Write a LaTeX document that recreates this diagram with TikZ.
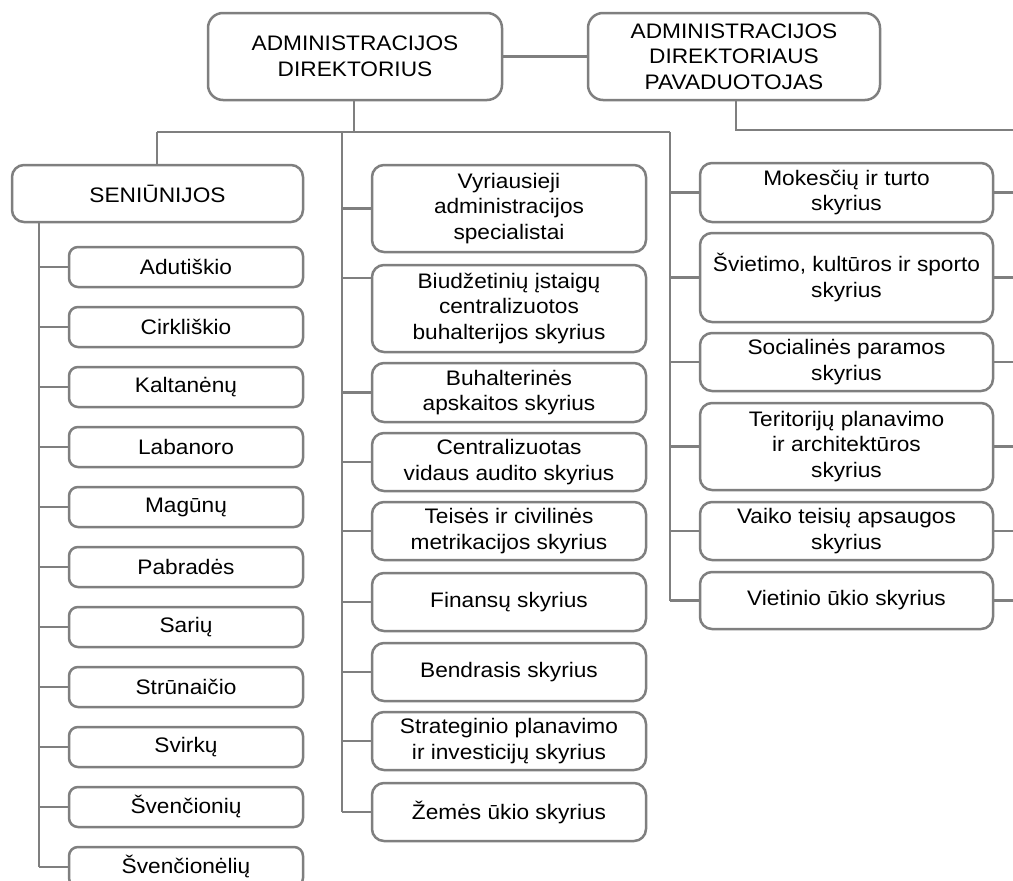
\documentclass[tikz,border=0pt]{standalone}
\usepackage{fontspec}
\setmainfont{Liberation Sans}[FakeStretch=1.08]
\definecolor{ln}{HTML}{7F7F7F}
\begin{document}
\begin{tikzpicture}[x=1pt,y=-1pt,
  base/.style={draw=ln, line width=2.5pt, fill=white, align=center, inner sep=0pt,
    font=\fontsize{21}{25.5}\selectfont, text=black},
  topbox/.style={base, rounded corners=15pt, minimum width=294pt, minimum height=87pt},
  sbox/.style={base, rounded corners=9pt, minimum width=234pt, minimum height=40pt},
  cbox/.style={base, rounded corners=12pt, minimum width=274pt},
  rbox/.style={base, rounded corners=12pt, minimum width=293pt},
  conn/.style={draw=ln, line width=2.5pt}]
\useasboundingbox (0,0) rectangle (1013,881);
% top
\node[topbox] (dir) at (355,56.5) {ADMINISTRACIJOS\\DIREKTORIUS};
\node[topbox, minimum width=292pt] (dep) at (734,56.5) {ADMINISTRACIJOS\\DIREKTORIAUS\\PAVADUOTOJAS};
\draw[conn] (dir.east) -- (dep.east -| dep.west);
% seniunijos
\node[base, rounded corners=12pt, minimum width=291pt, minimum height=57pt] (sen) at (157.5,193.5) {SENIŪNIJOS};
\foreach \n [count=\i from 0] in {Adutiškio,Cirkliškio,Kaltanėnų,Labanoro,Magūnų,Pabradės,Sarių,Strūnaičio,Svirkų,Švenčionių,Švenčionėlių}
  \node[sbox] (s\i) at (186,{267+60*\i}) {\n};
% column 2
\node[cbox, minimum height=87pt] (b1) at (509,208.5) {Vyriausieji\\administracijos\\specialistai};
\node[cbox, minimum height=87pt] (b2) at (509,308.5) {Biudžetinių įstaigų\\centralizuotos\\buhalterijos skyrius};
\node[cbox, minimum height=59pt] (b3) at (509,392.5) {Buhalterinės\\apskaitos skyrius};
\node[cbox, minimum height=58pt] (b4) at (509,462) {Centralizuotas\\vidaus audito skyrius};
\node[cbox, minimum height=58pt] (b5) at (509,531) {Teisės ir civilinės\\metrikacijos skyrius};
\node[cbox, minimum height=58pt] (b6) at (509,602) {Finansų skyrius};
\node[cbox, minimum height=58pt] (b7) at (509,672) {Bendrasis skyrius};
\node[cbox, minimum height=58pt] (b8) at (509,741) {Strateginio planavimo\\ir investicijų skyrius};
\node[cbox, minimum height=58pt] (b9) at (509,812) {Žemės ūkio skyrius};
% column 3
\node[rbox, minimum height=59pt] (r1) at (846.5,192.5) {Mokesčių ir turto\\skyrius};
\node[rbox, minimum height=89pt] (r2) at (846.5,277.5) {Švietimo, kultūros ir sporto\\skyrius};
\node[rbox, minimum height=58pt] (r3) at (846.5,362) {Socialinės paramos\\skyrius};
\node[rbox, minimum height=87pt] (r4) at (846.5,446.5) {Teritorijų planavimo\\ir architektūros\\skyrius};
\node[rbox, minimum height=58pt] (r5) at (846.5,531) {Vaiko teisių apsaugos\\skyrius};
\node[rbox, minimum height=57pt] (r6) at (846.5,600.5) {Vietinio ūkio skyrius};
% trunk
\coordinate (j) at (354,132);
\coordinate (j1) at (157,132);
\coordinate (j2) at (342,132);
\coordinate (j3) at (670,132);
\coordinate (E) at (1013,130);
\draw[conn] (dir.south -| j) -- (j);
\draw[conn] (j1) -- (j3);
\draw[conn] (j1) -- (j1 |- sen.north);
\draw[conn] (dep.south -| 736,0) |- (E);
% column 1 spine
\coordinate (k1) at (39,222);
\draw[conn] (k1 |- sen.south) -- (k1 |- s10.west);
\foreach \i in {0,...,10} \draw[conn] (k1 |- s\i.west) -- (s\i.west);
% column 2 spine
\draw[conn] (j2) -- (j2 |- b9.west);
\coordinate (c2) at (342,278);
\draw[conn] (c2) -- (c2 -| b2.west);
\foreach \i in {1,3,4,5,6,7,8,9} \draw[conn] (j2 |- b\i.west) -- (b\i.west);
% column 3 spine
\draw[conn] (j3) -- (j3 |- r6.west);
\foreach \i in {1,...,6} {
  \draw[conn] (j3 |- r\i.west) -- (r\i.west);
  \draw[conn] (r\i.east) -- (r\i.east -| E);
}
\end{tikzpicture}
\end{document}
